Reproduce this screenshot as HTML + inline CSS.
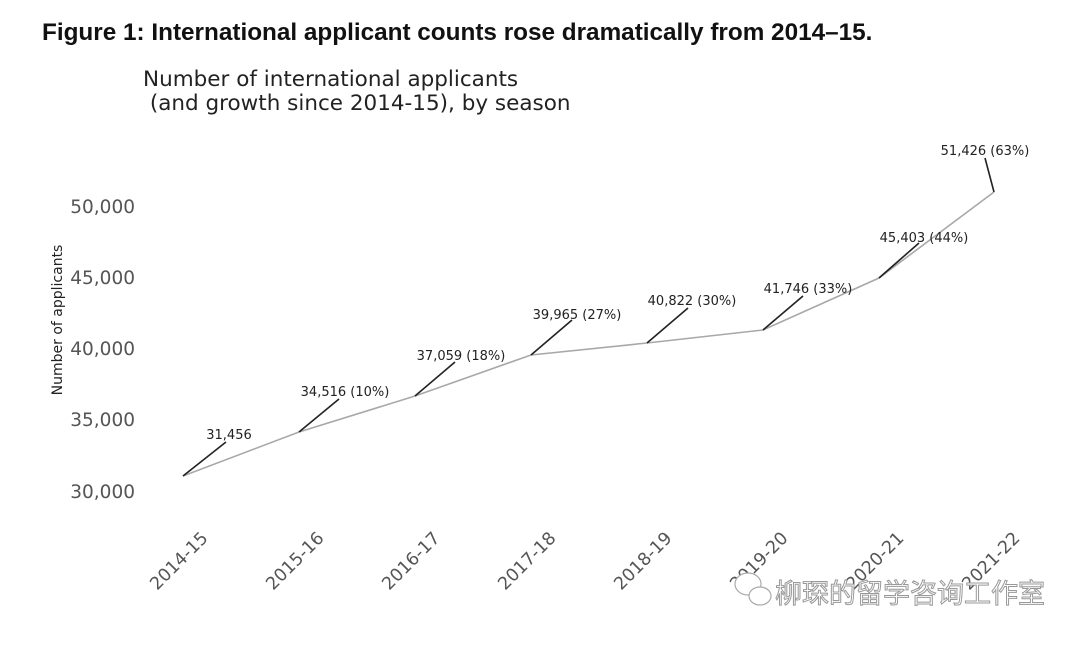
<!DOCTYPE html>
<html><head><meta charset="utf-8"><style>
body{margin:0;background:#fff;width:1080px;height:640px;overflow:hidden}
</style></head><body>
<svg width="1080" height="640" xmlns="http://www.w3.org/2000/svg">
<text x="42" y="40" font-family="Liberation Sans, sans-serif" font-weight="bold" font-size="24.3" fill="#111">Figure 1: International applicant counts rose dramatically from 2014–15.</text>
<g font-family="DejaVu Sans, sans-serif" font-size="21.5" fill="#222">
<text x="143" y="86">Number of international applicants</text>
<text x="143" y="110" xml:space="preserve"> (and growth since 2014-15), by season</text>
</g>
<g font-family="DejaVu Sans, sans-serif" font-size="18.5" fill="#555" text-anchor="end">
<text x="135" y="213">50,000</text>
<text x="135" y="284">45,000</text>
<text x="135" y="355">40,000</text>
<text x="135" y="426">35,000</text>
<text x="135" y="498">30,000</text>
</g>
<text transform="translate(62,320) rotate(-90)" text-anchor="middle" font-family="DejaVu Sans, sans-serif" font-size="14" fill="#222">Number of applicants</text>
<polyline fill="none" stroke="#a8a8a8" stroke-width="1.6" points="183,476 299,432 415,396 531,355 647,343 763,330 879,278 994,192"/>
<g stroke="#222" stroke-width="1.6">
<line x1="183" y1="476" x2="226" y2="442"/>
<line x1="299" y1="432" x2="339" y2="399"/>
<line x1="415" y1="396" x2="455" y2="362"/>
<line x1="531" y1="355" x2="572" y2="320"/>
<line x1="647" y1="343" x2="688" y2="308"/>
<line x1="763" y1="330" x2="803" y2="296"/>
<line x1="879" y1="278" x2="919" y2="243"/>
<line x1="994" y1="192" x2="985" y2="158"/>
</g>
<g font-family="DejaVu Sans, sans-serif" font-size="13" fill="#222" text-anchor="middle">
<text x="229" y="439">31,456</text>
<text x="345" y="396">34,516 (10%)</text>
<text x="461" y="360">37,059 (18%)</text>
<text x="577" y="319">39,965 (27%)</text>
<text x="692" y="305">40,822 (30%)</text>
<text x="808" y="293">41,746 (33%)</text>
<text x="924" y="242">45,403 (44%)</text>
<text x="985" y="155">51,426 (63%)</text>
</g>
<g font-family="DejaVu Sans, sans-serif" font-size="17.5" fill="#555" text-anchor="middle">
<text transform="translate(183,565) rotate(-45)">2014-15</text>
<text transform="translate(299,565) rotate(-45)">2015-16</text>
<text transform="translate(415,565) rotate(-45)">2016-17</text>
<text transform="translate(531,565) rotate(-45)">2017-18</text>
<text transform="translate(647,565) rotate(-45)">2018-19</text>
<text transform="translate(763,565) rotate(-45)">2019-20</text>
<text transform="translate(879,565) rotate(-45)">2020-21</text>
<text transform="translate(995,565) rotate(-45)">2021-22</text>
</g>
<g fill="#fff" stroke="#aaa" stroke-width="1.2">
<ellipse cx="748" cy="584" rx="13" ry="11"/>
<ellipse cx="760" cy="596" rx="11" ry="9"/>
</g>
<text x="775" y="603" font-family="Noto Sans CJK SC, sans-serif" font-size="27" fill="#fff" stroke="#999" stroke-width="1">柳琛的留学咨询工作室</text>
</svg>
</body></html>
